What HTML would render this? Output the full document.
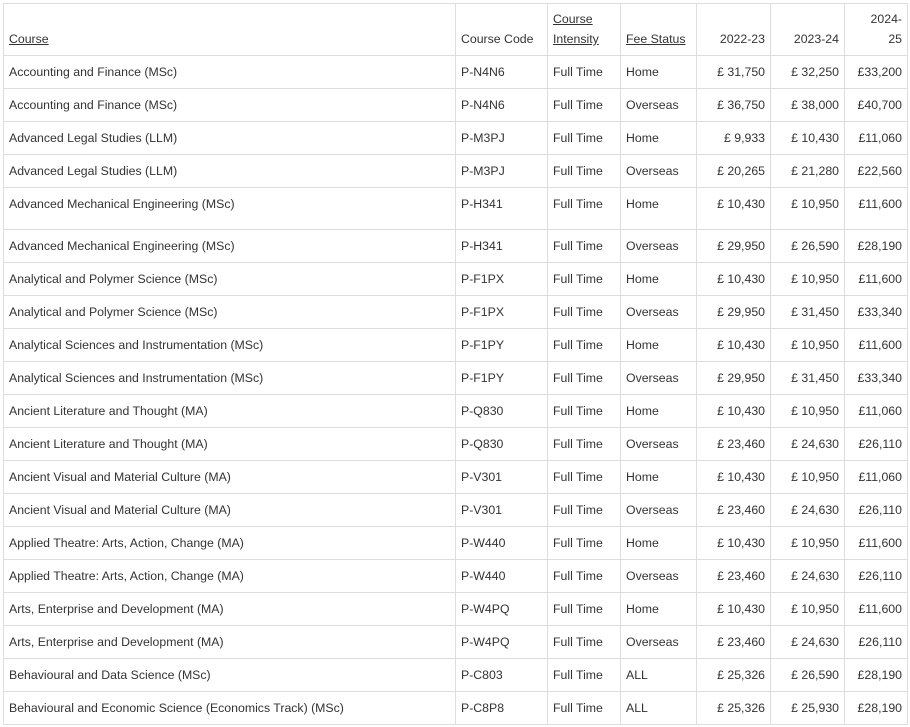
<!DOCTYPE html>
<html><head><meta charset="utf-8"><style>
body{margin:0;background:#fff;}
table{position:absolute;left:3px;top:3px;border-collapse:collapse;table-layout:fixed;width:904px;font-family:"Liberation Sans",sans-serif;font-size:12.3px;color:#333;}
td,th{border:1px solid #ddd;padding:0 5px;font-weight:normal;box-sizing:border-box;}
th{height:52px;vertical-align:bottom;padding-bottom:6px;line-height:20px;text-align:left;}
th.r{text-align:right;}
td{height:33px;vertical-align:top;padding-top:9px;line-height:15px;white-space:nowrap;}
tr.tall td{height:42px;}
td.r{text-align:right;padding-right:5px;}
u{text-decoration:underline;}
</style></head><body>
<table>
<colgroup><col style="width:452px"><col style="width:92px"><col style="width:73px"><col style="width:76px"><col style="width:74px"><col style="width:74px"><col style="width:63px"></colgroup>
<tr><th><u>Course</u></th><th>Course Code</th><th><u>Course<br>Intensity</u></th><th><u>Fee Status</u></th><th class="r">2022-23</th><th class="r">2023-24</th><th class="r">2024-<br>25</th></tr>
<tr><td>Accounting and Finance (MSc)</td><td>P-N4N6</td><td>Full Time</td><td>Home</td><td class="r">£ 31,750</td><td class="r">£ 32,250</td><td class="r">£33,200</td></tr>
<tr><td>Accounting and Finance (MSc)</td><td>P-N4N6</td><td>Full Time</td><td>Overseas</td><td class="r">£ 36,750</td><td class="r">£ 38,000</td><td class="r">£40,700</td></tr>
<tr><td>Advanced Legal Studies (LLM)</td><td>P-M3PJ</td><td>Full Time</td><td>Home</td><td class="r">£ 9,933</td><td class="r">£ 10,430</td><td class="r">£11,060</td></tr>
<tr><td>Advanced Legal Studies (LLM)</td><td>P-M3PJ</td><td>Full Time</td><td>Overseas</td><td class="r">£ 20,265</td><td class="r">£ 21,280</td><td class="r">£22,560</td></tr>
<tr class="tall"><td>Advanced Mechanical Engineering (MSc)</td><td>P-H341</td><td>Full Time</td><td>Home</td><td class="r">£ 10,430</td><td class="r">£ 10,950</td><td class="r">£11,600</td></tr>
<tr><td>Advanced Mechanical Engineering (MSc)</td><td>P-H341</td><td>Full Time</td><td>Overseas</td><td class="r">£ 29,950</td><td class="r">£ 26,590</td><td class="r">£28,190</td></tr>
<tr><td>Analytical and Polymer Science (MSc)</td><td>P-F1PX</td><td>Full Time</td><td>Home</td><td class="r">£ 10,430</td><td class="r">£ 10,950</td><td class="r">£11,600</td></tr>
<tr><td>Analytical and Polymer Science (MSc)</td><td>P-F1PX</td><td>Full Time</td><td>Overseas</td><td class="r">£ 29,950</td><td class="r">£ 31,450</td><td class="r">£33,340</td></tr>
<tr><td>Analytical Sciences and Instrumentation (MSc)</td><td>P-F1PY</td><td>Full Time</td><td>Home</td><td class="r">£ 10,430</td><td class="r">£ 10,950</td><td class="r">£11,600</td></tr>
<tr><td>Analytical Sciences and Instrumentation (MSc)</td><td>P-F1PY</td><td>Full Time</td><td>Overseas</td><td class="r">£ 29,950</td><td class="r">£ 31,450</td><td class="r">£33,340</td></tr>
<tr><td>Ancient Literature and Thought (MA)</td><td>P-Q830</td><td>Full Time</td><td>Home</td><td class="r">£ 10,430</td><td class="r">£ 10,950</td><td class="r">£11,060</td></tr>
<tr><td>Ancient Literature and Thought (MA)</td><td>P-Q830</td><td>Full Time</td><td>Overseas</td><td class="r">£ 23,460</td><td class="r">£ 24,630</td><td class="r">£26,110</td></tr>
<tr><td>Ancient Visual and Material Culture (MA)</td><td>P-V301</td><td>Full Time</td><td>Home</td><td class="r">£ 10,430</td><td class="r">£ 10,950</td><td class="r">£11,060</td></tr>
<tr><td>Ancient Visual and Material Culture (MA)</td><td>P-V301</td><td>Full Time</td><td>Overseas</td><td class="r">£ 23,460</td><td class="r">£ 24,630</td><td class="r">£26,110</td></tr>
<tr><td>Applied Theatre: Arts, Action, Change (MA)</td><td>P-W440</td><td>Full Time</td><td>Home</td><td class="r">£ 10,430</td><td class="r">£ 10,950</td><td class="r">£11,600</td></tr>
<tr><td>Applied Theatre: Arts, Action, Change (MA)</td><td>P-W440</td><td>Full Time</td><td>Overseas</td><td class="r">£ 23,460</td><td class="r">£ 24,630</td><td class="r">£26,110</td></tr>
<tr><td>Arts, Enterprise and Development (MA)</td><td>P-W4PQ</td><td>Full Time</td><td>Home</td><td class="r">£ 10,430</td><td class="r">£ 10,950</td><td class="r">£11,600</td></tr>
<tr><td>Arts, Enterprise and Development (MA)</td><td>P-W4PQ</td><td>Full Time</td><td>Overseas</td><td class="r">£ 23,460</td><td class="r">£ 24,630</td><td class="r">£26,110</td></tr>
<tr><td>Behavioural and Data Science (MSc)</td><td>P-C803</td><td>Full Time</td><td>ALL</td><td class="r">£ 25,326</td><td class="r">£ 26,590</td><td class="r">£28,190</td></tr>
<tr><td>Behavioural and Economic Science (Economics Track) (MSc)</td><td>P-C8P8</td><td>Full Time</td><td>ALL</td><td class="r">£ 25,326</td><td class="r">£ 25,930</td><td class="r">£28,190</td></tr>
</table>
</body></html>
